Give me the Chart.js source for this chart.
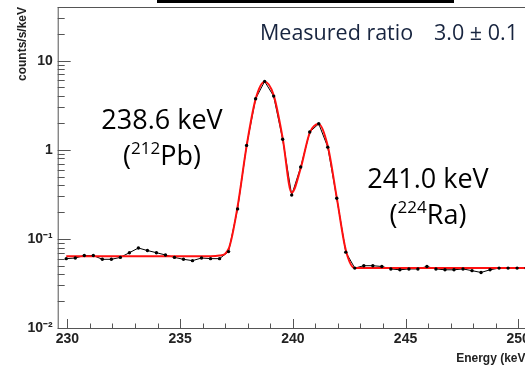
<!DOCTYPE html>
<html>
<head>
<meta charset="utf-8">
<script src="https://cdn.jsdelivr.net/npm/chart.js@4.4.1/dist/chart.umd.min.js"></script>
<style>
  html, body { margin: 0; padding: 0; background: #fff; }
  #wrap { width: 525px; height: 368px; overflow: hidden; position: relative; }
  canvas { display: block; }
</style>
</head>
<body>
<div id="wrap"><canvas id="spec" width="545" height="368"></canvas></div>
<script>
// bin centres (keV)
const energy = [229.95, 230.35, 230.75, 231.15, 231.55, 231.95, 232.35, 232.75, 233.15, 233.55,
  233.95, 234.35, 234.75, 235.15, 235.55, 235.95, 236.35, 236.75, 237.15, 237.55,
  237.95, 238.35, 238.75, 239.15, 239.55, 239.95, 240.35, 240.75, 241.15, 241.55,
  241.95, 242.35, 242.75, 243.15, 243.55, 243.95, 244.35, 244.75, 245.15, 245.55,
  245.95, 246.35, 246.75, 247.15, 247.55, 247.95, 248.35, 248.75, 249.15, 249.55,
  249.95, 250.35];

// measured rate, counts/s/keV
const counts = [0.060, 0.061, 0.065, 0.065, 0.059, 0.059, 0.062, 0.070, 0.079, 0.074,
  0.070, 0.066, 0.062, 0.059, 0.057, 0.061, 0.060, 0.060, 0.072, 0.217,
  1.12, 3.74, 5.85, 4.0, 1.31, 0.31, 0.64, 1.58, 1.96, 1.07,
  0.286, 0.071, 0.047, 0.050, 0.050, 0.049, 0.046, 0.045, 0.046, 0.046,
  0.049, 0.046, 0.045, 0.045, 0.046, 0.044, 0.042, 0.045, 0.047, 0.047,
  0.047, 0.047];

// double peak fit on step background
const fit = [0.064, 0.064, 0.064, 0.064, 0.064, 0.064, 0.064, 0.064, 0.064, 0.064,
  0.064, 0.064, 0.064, 0.064, 0.064, 0.064, 0.064, 0.065, 0.077, 0.23,
  1.1, 3.7, 5.8, 4.1, 1.35, 0.33, 0.62, 1.55, 1.95, 1.1,
  0.29, 0.075, 0.047, 0.047, 0.047, 0.047, 0.047, 0.047, 0.047, 0.047,
  0.047, 0.047, 0.047, 0.047, 0.047, 0.047, 0.047, 0.047, 0.047, 0.047,
  0.047, 0.047];

const xTicks = [230, 235, 240, 245, 250];
const yDecades = [0.01, 0.1, 1, 10];
const yLabels = { 0.01: '10\u207B\u00B2', 0.1: '10\u207B\u00B9', 1: '1', 10: '10' };

const xy = (arr) => arr.map((v, i) => ({ x: energy[i], y: v }));

// ROOT-style frame with ticks pointing inwards, plus the text overlays
const frameAndText = {
  id: 'frameAndText',
  afterDraw(chart) {
    const { ctx, chartArea: a, scales: { x, y } } = chart;
    ctx.save();
    ctx.strokeStyle = '#555';
    ctx.lineWidth = 1;
    ctx.strokeRect(a.left + 0.5, a.top + 0.5, a.right - a.left, a.bottom - a.top);

    ctx.beginPath();
    for (let e = 230; e <= 250; e++) {
      const px = Math.round(x.getPixelForValue(e)) + 0.5;
      const len = e % 5 === 0 ? 9 : 4.5;
      ctx.moveTo(px, a.bottom);
      ctx.lineTo(px, a.bottom - len);
    }
    y.ticks.forEach(t => {
      const py = Math.round(y.getPixelForValue(t.value)) + 0.5;
      const len = yDecades.includes(t.value) ? 13 : 7;
      ctx.moveTo(a.left, py);
      ctx.lineTo(a.left + len, py);
    });
    ctx.stroke();

    // bar at the top edge
    ctx.fillStyle = '#000';
    ctx.fillRect(157, 0, 297, 3);

    const font = '"Open Sans", "Liberation Sans", sans-serif';
    const peakLabel = (cx, top, energyText, mass, element) => {
      ctx.fillStyle = '#000';
      ctx.textAlign = 'center';
      ctx.textBaseline = 'alphabetic';
      ctx.font = '27px ' + font;
      ctx.fillText(energyText, cx, top);
      // second line with superscript mass number
      const big = '27px ' + font, small = '17px ' + font;
      ctx.font = big; const w1 = ctx.measureText('(').width;
      ctx.font = small; const w2 = ctx.measureText(mass).width;
      ctx.font = big; const w3 = ctx.measureText(element + ')').width;
      let sx = cx - (w1 + w2 + w3) / 2;
      ctx.textAlign = 'left';
      ctx.fillText('(', sx, top + 36);
      ctx.font = small;
      ctx.fillText(mass, sx + w1, top + 25);
      ctx.font = big;
      ctx.fillText(element + ')', sx + w1 + w2, top + 36);
    };
    peakLabel(162, 129, '238.6 keV', '212', 'Pb');
    peakLabel(428, 188, '241.0 keV', '224', 'Ra');

    ctx.fillStyle = '#17243f';
    ctx.textAlign = 'left';
    ctx.font = '21.5px ' + font;
    ctx.fillText('Measured ratio', 260, 40);
    ctx.fillText('3.0 \u00B1 0.1', 434, 40);
    ctx.restore();
  }
};

new Chart(document.getElementById('spec'), {
  type: 'line',
  data: {
    datasets: [
      {
        // connecting line of the measured points
        data: xy(counts),
        borderColor: '#000',
        borderWidth: 1,
        pointRadius: 0,
        tension: 0,
        order: 3
      },
      {
        data: xy(fit),
        borderColor: '#ff1010',
        borderWidth: 2,
        pointRadius: 0,
        cubicInterpolationMode: 'monotone',
        order: 2
      },
      {
        data: xy(counts),
        showLine: false,
        pointRadius: 1.7,
        pointBackgroundColor: '#000',
        pointBorderWidth: 0,
        order: 1
      }
    ]
  },
  options: {
    responsive: false,
    animation: false,
    layout: { padding: { top: 7, right: 15.5, left: 0, bottom: 0 } },
    plugins: { legend: { display: false }, tooltip: { enabled: false } },
    scales: {
      x: {
        type: 'linear',
        min: 229.57,
        max: 250.5,
        afterFit: s => { s.height = 40; s.paddingLeft = 0; s.paddingRight = 0; },
        afterBuildTicks: s => { s.ticks = xTicks.map(v => ({ value: v })); },
        grid: { display: false, drawTicks: false },
        border: { display: false },
        ticks: {
          color: '#222',
          padding: 3,
          maxRotation: 0,
          font: { family: '"Liberation Sans", Arial, sans-serif', size: 14, weight: 'bold' },
          callback: v => String(v)
        },
        title: {
          display: true,
          text: 'Energy (keV)',
          align: 'end',
          color: '#222',
          padding: { top: 0, bottom: 2 },
          font: { family: '"Liberation Sans", Arial, sans-serif', size: 12, weight: 'bold' }
        }
      },
      y: {
        type: 'logarithmic',
        min: 0.01,
        max: 40,
        afterFit: s => { s.width = 57.7; s.paddingTop = 0; s.paddingBottom = 0; },
        afterBuildTicks: s => {
          const vals = [];
          yDecades.forEach(d => {
            for (let m = 1; m <= 9; m++) {
              const v = +(d * m).toPrecision(3);
              if (v <= 40) vals.push(v);
            }
          });
          s.ticks = vals.map(v => ({ value: v }));
        },
        grid: { display: false, drawTicks: false },
        border: { display: false },
        ticks: {
          color: '#222',
          padding: 5,
          autoSkip: false,
          font: { family: '"Liberation Sans", Arial, sans-serif', size: 14, weight: 'bold' },
          callback: v => yLabels[v] || ''
        },
        title: {
          display: true,
          text: 'counts/s/keV',
          align: 'end',
          color: '#222',
          padding: { top: 15, bottom: 0 },
          font: { family: '"Liberation Sans", Arial, sans-serif', size: 12, weight: 'bold' }
        }
      }
    }
  },
  plugins: [frameAndText]
});
</script>
</body>
</html>
